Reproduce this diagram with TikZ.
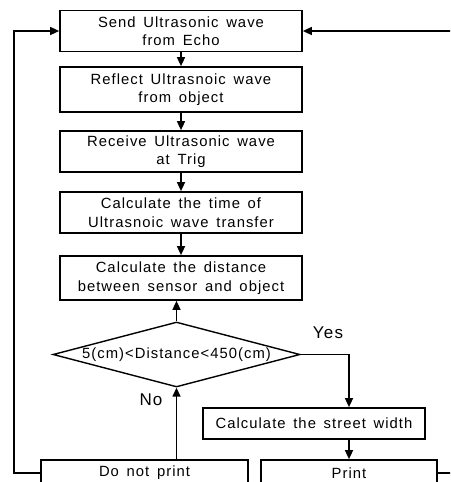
\documentclass[tikz,border=0pt]{standalone}
\usepackage{fontspec}
\setmainfont{Liberation Sans}[LetterSpace=7,WordSpace=1.5]
\usetikzlibrary{positioning}
\usetikzlibrary{shapes.geometric}
\usetikzlibrary{arrows.meta}

\begin{document}
\begin{tikzpicture}[x=1pt,y=1pt,on grid,>={Triangle[length=9pt,width=8pt]},
		box/.style={rectangle,draw=black,line width=1.7pt,align=center,inner sep=0pt,
			minimum width=242pt,minimum height=41pt,font=\fontsize{14.8}{18.5}\selectfont},
		test/.style={diamond,draw=black,line width=1.4pt,inner sep=0pt,shape aspect=3.8,
			minimum width=247pt,minimum height=65pt,font=\fontsize{14.8}{18.5}\selectfont},
		lbl/.style={font=\fontsize{17}{18}\selectfont},
		link/.style={->,line width=1.5pt}]
		\useasboundingbox (0,0) rectangle (450,-482);
		\clip (0,0) rectangle (450,-482);
		\node[box]  (send)  at (181,-31)  {Send Ultrasonic wave\\from Echo};
		\node[box,minimum height=45pt]  (reflect) [below=58.5pt of send] {Reflect Ultrasnoic wave\\from object};
		\node[box]  (receive) [below=62pt of reflect] {Receive Ultrasonic wave\\at Trig};
		\node[box]  (time)    [below=61pt of receive] {Calculate the time of\\Ultrasnoic wave transfer};
		\node[box,minimum height=44pt]  (dist) [below=65.5pt of time] {Calculate the distance\\between sensor and object};
		\node[test] (check)   [below=76.5pt of dist, xshift=-4.5pt] {5(cm)<Distance<450(cm)};
		\node[box,minimum width=222pt,minimum height=31pt] (street) [below right=69pt and 137.5pt of check] {Calculate the street width};
		\node[box,minimum width=207pt,minimum height=26pt] (dont) [below=118.5pt of check, xshift=-32pt] {Do not print};
		\node[box,minimum width=176pt,minimum height=26pt] (print) [right=204.5pt of dont] {Print};
		
		\node[lbl] (yes) at (328,-333) {Yes};
		\node[lbl] (no)  at (151,-400) {No};
		
		\coordinate (lft) at (14,-473);
		\coordinate (rgt) at (460,-473);
		
		\draw[link] (send) -- (reflect);
		\draw[link] (reflect) -- (receive);
		\draw[link] (receive) -- (time);
		\draw[link] (time) -- (dist);
		\draw[link] (check.north) -- (check.north |- dist.south);
		\draw[link] (check.south |- dont.north) -- (check.south);
		\draw[link] (check.east) -| (print.north |- street.north);
		\draw[link] (print.north |- street.south) -- (print.north);
		\draw[link] (dont.west) -- (lft) |- (send.west);
		\draw[link] (print.east) -- (rgt) |- (send.east);
		\end{tikzpicture}
\end{document}
